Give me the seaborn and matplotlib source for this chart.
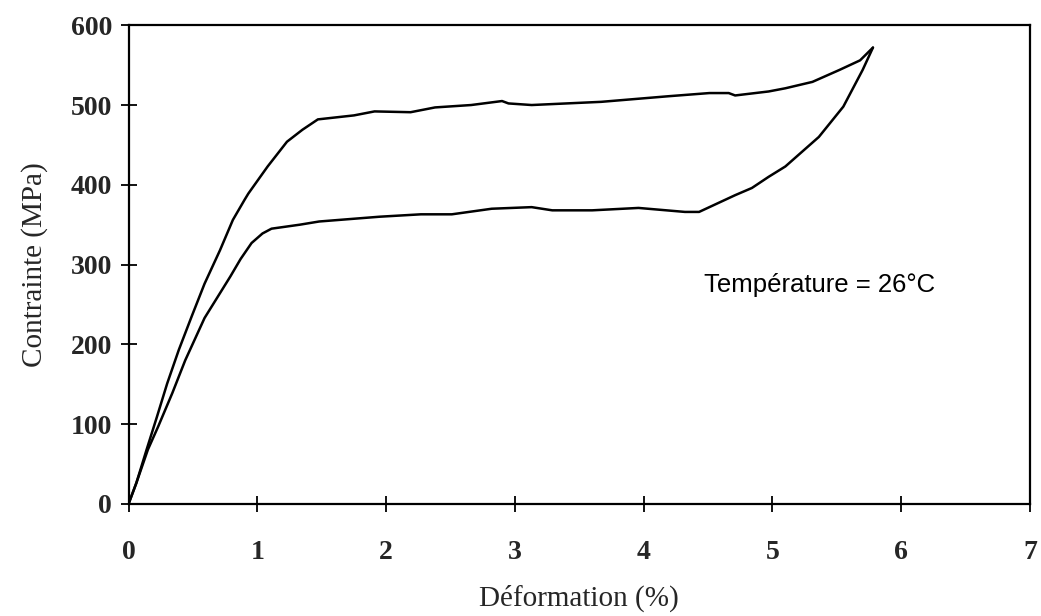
import numpy as np
import pandas as pd
import matplotlib
matplotlib.use("Agg")
import matplotlib.pyplot as plt
import seaborn as sns

# Loading branch (Déformation %, Contrainte MPa)
load_strain = [0.0, 0.06, 0.14, 0.22, 0.30, 0.39, 0.49, 0.59, 0.71, 0.81, 0.90, 0.93, 1.08,
               1.23, 1.35, 1.47, 1.75, 1.91, 2.19, 2.38, 2.66, 2.90, 2.95, 3.13, 3.67,
               4.19, 4.51, 4.66, 4.71, 4.97, 5.10, 5.31, 5.52, 5.68, 5.78]
load_stress = [0, 26, 68, 109, 151, 193, 235, 276, 318, 356, 381, 389, 423,
               454, 469, 482, 487, 492, 491, 497, 500, 505, 502, 500, 504,
               511, 515, 515, 512, 517, 521, 529, 544, 556, 572]

# Unloading branch
unload_strain = [5.78, 5.70, 5.55, 5.36, 5.10, 4.97, 4.84, 4.71, 4.43, 4.32, 3.96, 3.60,
                 3.29, 3.13, 2.82, 2.51, 2.27, 1.95, 1.48, 1.33, 1.11, 1.04, 0.955, 0.87,
                 0.79, 0.59, 0.44, 0.34, 0.23, 0.15, 0.06, 0.0]
unload_stress = [572, 544, 498, 460, 423, 410, 396, 387, 366, 366, 371, 368,
                 368, 372, 370, 363, 363, 360, 354, 350, 345, 339, 327, 307,
                 285, 233, 180, 139, 97, 68, 26, 0]

x_ticks = [0, 1, 2, 3, 4, 5, 6, 7]
y_ticks = [0, 100, 200, 300, 400, 500, 600]
x_label = "Déformation (%)"
y_label = "Contrainte (MPa)"
annotation = "Température = 26°C"

df_load = pd.DataFrame({"strain": load_strain, "stress": load_stress})
df_unload = pd.DataFrame({"strain": unload_strain, "stress": unload_stress})

sns.set_theme(style="white")
plt.rcParams["font.family"] = ["Liberation Serif", "DejaVu Serif"]

fig = plt.figure(figsize=(10.41, 6.16), dpi=100)
ax = fig.add_axes([0.1235, 0.182, 0.866, 0.777])

sns.lineplot(data=df_load, x="strain", y="stress", sort=False, ax=ax,
             color="black", linewidth=1.8)
sns.lineplot(data=df_unload, x="strain", y="stress", sort=False, ax=ax,
             color="black", linewidth=1.8)

ax.set_xlim(0, 7)
ax.set_ylim(0, 600)
ax.set_xticks(x_ticks)
ax.set_yticks(y_ticks)
ax.set_xticklabels([str(t) for t in x_ticks], fontweight="bold", fontsize=20)
ax.set_yticklabels([str(t) for t in y_ticks], fontweight="bold", fontsize=20)
ax.tick_params(axis="both", direction="inout", length=12, width=1.3,
               color="black", bottom=True, left=True, top=False, right=False)
ax.tick_params(axis="x", pad=20)
ax.tick_params(axis="y", pad=6)

for s in ax.spines.values():
    s.set_color("black")
    s.set_linewidth(1.6)
    s.set_visible(True)

ax.set_xlabel(x_label, fontsize=21, labelpad=14)
ax.set_ylabel(y_label, fontsize=21, labelpad=16)

ax.text(4.47, 274, annotation, fontsize=18.5, family=["Liberation Sans", "DejaVu Sans"],
        ha="left", va="center", color="black")

fig.savefig("out.png", dpi=100, facecolor="white")
